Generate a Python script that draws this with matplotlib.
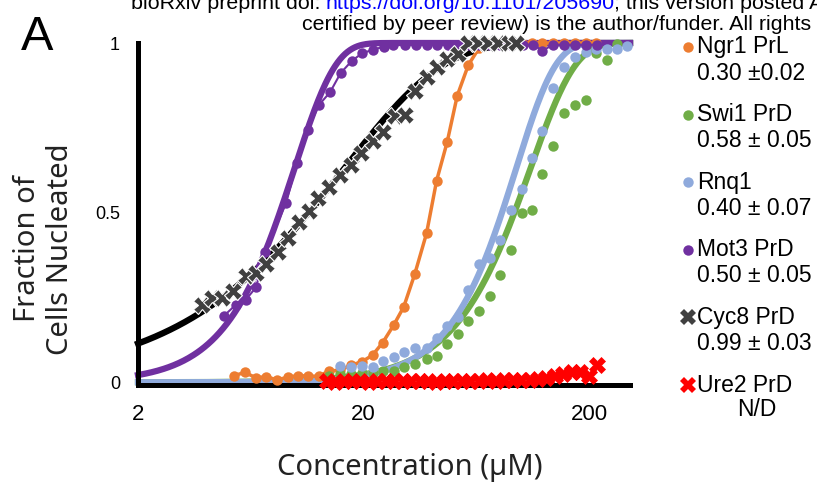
import numpy as np
import matplotlib.pyplot as plt
from matplotlib.lines import Line2D

plt.rcParams['font.family'] = ['Liberation Sans', 'DejaVu Sans']

# ---------------- data ----------------
ngr1_conc = [5.34, 5.96, 6.67, 7.39, 8.24, 9.22, 10.25, 11.39, 12.66, 14.1, 15.7, 17.5,
             19.7, 21.9, 24.3, 27.2, 30.1, 33.7, 38.0, 42.1, 46.9, 52.0, 58.2, 64.9,
             72.1, 80.4, 89.8, 100.4, 111.3, 123.3, 138.8, 153.8, 173.4, 193.0, 213.7]
ngr1_frac = [0.020, 0.029, 0.013, 0.017, 0.007, 0.015, 0.020, 0.018, 0.018, 0.034, 0.035, 0.050,
             0.061, 0.080, 0.117, 0.169, 0.222, 0.319, 0.439, 0.594, 0.708, 0.845, 0.935, 0.985,
             1.0, 1.0, 1.0, 1.0, 1.0, 1.0, 1.0, 1.0, 1.0, 1.0, 1.0]

swi1_conc = [14.1, 15.7, 17.5, 19.6, 21.9, 24.3, 27.2, 30.2, 33.7, 38.0, 42.1, 47.0, 52.2, 58.2,
             65.0, 72.3, 80.6, 89.8, 100.4, 111.3, 123.3, 138.8, 153.8, 173.4, 193.0, 213.7,
             239.5, 265.6]
swi1_frac = [0.020, 0.023, 0.023, 0.026, 0.026, 0.034, 0.034, 0.044, 0.054, 0.068, 0.078, 0.112,
             0.141, 0.180, 0.210, 0.254, 0.317, 0.390, 0.500, 0.509, 0.614, 0.697, 0.795, 0.817,
             0.833, 0.971, 0.950, 0.996]

rnq1_conc = [15.7, 17.5, 19.6, 21.9, 24.3, 27.2, 30.2, 33.7, 38.0, 42.1, 47.0, 52.2, 58.2, 65.0,
             72.3, 80.6, 89.8, 100.4, 111.3, 123.3, 138.8, 153.8, 173.4, 193.0, 213.7, 239.5,
             265.6, 295.0]
rnq1_frac = [0.049, 0.046, 0.049, 0.044, 0.063, 0.075, 0.088, 0.102, 0.102, 0.132, 0.166, 0.192,
             0.273, 0.349, 0.365, 0.419, 0.507, 0.570, 0.660, 0.741, 0.866, 0.928, 0.960, 0.974,
             0.983, 0.982, 0.983, 0.990]

mot3_conc = [4.79, 5.44, 6.02, 6.67, 7.34, 9.06, 10.1, 11.3, 12.7, 14.2, 15.8, 17.7, 19.7, 22.0,
             24.5, 26.9, 30.4, 34.0, 38.1, 42.2, 47.2, 52.3, 58.2, 65.0, 72.3, 80.6, 89.8,
             102.0, 113.0, 124.0, 138.0, 155.0, 173.0, 194.0, 217.0]
mot3_frac = [0.195, 0.229, 0.244, 0.280, 0.385, 0.528, 0.645, 0.745, 0.818, 0.855, 0.911, 0.947,
             0.970, 0.980, 0.989, 0.995, 0.995, 0.995, 0.995, 0.995, 0.995, 0.995, 0.995, 0.995,
             0.995, 0.995, 0.995, 0.995, 0.995, 0.977, 0.995, 0.995, 0.995, 0.995, 0.995]

cyc8_conc = [3.85, 4.26, 4.72, 5.29, 6.0, 6.64, 7.41, 8.32, 9.28, 10.34, 11.45, 12.56, 14.0, 15.76,
             17.6, 19.5, 21.9, 24.3, 27.5, 30.4, 33.7, 38.0, 42.1, 46.9, 52.2, 58.0, 64.2, 71.3,
             79.1, 87.8, 95.0]
cyc8_frac = [0.227, 0.247, 0.249, 0.269, 0.313, 0.322, 0.348, 0.383, 0.424, 0.473, 0.506, 0.542,
             0.577, 0.611, 0.640, 0.675, 0.711, 0.738, 0.784, 0.789, 0.860, 0.899, 0.928, 0.952,
             0.967, 1.0, 1.0, 1.0, 1.0, 1.0, 1.0]

ure2_conc = [13.7, 14.9, 16.3, 17.7, 19.3, 21.1, 23.0, 25.0, 27.3, 29.8, 32.4, 35.4, 38.6, 42.0,
             45.8, 50.0, 54.5, 59.4, 64.7, 70.6, 77.0, 83.9, 91.5, 99.7, 108.7, 118.5, 129.2,
             140.8, 153.5, 167.4, 182.5, 199.0, 217.0]
ure2_frac = [0.004, 0.002, 0.005, 0.003, 0.004, 0.002, 0.005, 0.003, 0.004, 0.003, 0.005, 0.003,
             0.004, 0.002, 0.005, 0.004, 0.003, 0.005, 0.004, 0.006, 0.005, 0.007, 0.006, 0.008,
             0.007, 0.010, 0.012, 0.020, 0.025, 0.030, 0.030, 0.020, 0.052]

# Weibull fits (scale, shape)
rnq1_fit = (95.0, 2.5)
swi1_fit = (110.0, 2.2)
mot3_fit = (9.9, 2.4)
cyc8_fit = (16.5, 1.0)

legend_names = ['Ngr1 PrL', 'Swi1 PrD', 'Rnq1', 'Mot3 PrD', 'Cyc8 PrD', 'Ure2 PrD']
legend_values = ['0.30 \u00b10.02', '0.58 \u00b1 0.05', '0.40 \u00b1 0.07',
                 '0.50 \u00b1 0.05', '0.99 \u00b1 0.03', 'N/D']

ORANGE = '#ED7D31'
GREEN = '#70AD47'
BLUE = '#8FAADC'
PURPLE = '#7030A0'
GRAY = '#404040'
RED = '#FF0000'


def weibull(c, scale, shape):
    c = np.asarray(c)
    return 1 - np.exp(-(c / scale) ** shape)


W, H = 817, 496
fig = plt.figure(figsize=(W / 100, H / 100), dpi=100)
ax = fig.add_axes([138 / W, 1 - 385 / H, (630 - 138) / W, (385 - 43) / H])

c_fit = np.logspace(np.log10(2), np.log10(303), 400)

# fitted curves
ax.plot(c_fit, weibull(c_fit, *swi1_fit), color=GREEN, lw=4.5, zorder=2, clip_on=False)
ax.plot(c_fit, weibull(c_fit, *rnq1_fit), color=BLUE, lw=4.5, zorder=2, clip_on=False)
ax.plot(c_fit, weibull(c_fit, *cyc8_fit), color='black', lw=4.5, zorder=2, clip_on=False)
ax.plot(c_fit, weibull(c_fit, *mot3_fit), color=PURPLE, lw=4.5, zorder=2, clip_on=False)

# measured data
ax.plot(ngr1_conc, ngr1_frac, color=ORANGE, lw=2.5, marker='o', ms=7.5, mew=0,
        zorder=3, clip_on=False)
ax.plot(swi1_conc, swi1_frac, ls='none', color=GREEN, marker='o', ms=7.5, mew=0,
        zorder=3, clip_on=False)
ax.plot(rnq1_conc, rnq1_frac, ls='none', color=BLUE, marker='o', ms=7.5, mew=0,
        zorder=3, clip_on=False)
ax.plot(mot3_conc, mot3_frac, color=PURPLE, lw=1.5, marker='o', ms=7.5, mew=0,
        zorder=3, clip_on=False)
ax.plot(cyc8_conc, cyc8_frac, ls='none', color=GRAY, marker='X', ms=12.5, mec='white', mew=0.8,
        zorder=4, clip_on=False)
ax.plot(ure2_conc, ure2_frac, ls='none', color=RED, marker='X', ms=12, mec=RED, mew=0.5,
        zorder=5, clip_on=False)

ax.set_xscale('log')
ax.set_xlim(2, 303)
ax.set_ylim(-0.008, 1.0)
ax.set_xticks([2, 20, 200])
ax.set_xticklabels(['2', '20', '200'], fontsize=16)
ax.xaxis.set_minor_locator(plt.NullLocator())
ax.set_yticks([0, 0.5, 1])
ax.set_yticklabels(['0', '0.5', '1'], fontsize=13)
ax.tick_params(axis='x', length=0, pad=14)
ax.tick_params(axis='y', length=0, pad=13)
for s in ['top', 'right']:
    ax.spines[s].set_visible(False)
for s in ['left', 'bottom']:
    ax.spines[s].set_linewidth(3.6)
    ax.spines[s].set_capstyle('projecting')

# axis labels
lab_font = ['Noto Sans', 'DejaVu Sans']
fig.text(410 / W, 1 - 467 / H, 'Concentration (\u00b5M)', fontsize=21, family=lab_font,
         color='#222222', ha='center', va='center')
fig.text(28 / W, 1 - 249 / H, 'Fraction of', fontsize=21, family=lab_font,
         color='#222222', ha='center', va='center', rotation=90)
fig.text(61 / W, 1 - 249 / H, 'Cells Nucleated', fontsize=21, family=lab_font,
         color='#222222', ha='center', va='center', rotation=90)

# panel letter
fig.text(37 / W, 1 - 37 / H, 'A', fontsize=35, ha='center', va='center')

# preprint header (cut at top of page), pieces chained one after another
head_size = 15.4
renderer = fig.canvas.get_renderer()
x0 = 131 / W
for piece, col in [('bioRxiv preprint doi:', 'black'),
                   ('https://doi.org/10.1101/205690', '#0000FF'),
                   ('; this version posted August', 'black')]:
    t = fig.text(x0, 1 - 9 / H, piece, fontsize=head_size, va='baseline', color=col)
    bb = t.get_window_extent(renderer=renderer)
    x0 = (bb.x1 + (5 if piece.endswith(':') else 0)) / W
fig.text(302 / W, 1 - 30 / H, 'certified by peer review) is the author/funder. All rights reserved.',
         fontsize=head_size, va='baseline')

# legend
leg_colors = [ORANGE, GREEN, BLUE, PURPLE, GRAY, RED]
leg_markers = ['o', 'o', 'o', 'o', 'X', 'X']
for i, (name, val) in enumerate(zip(legend_names, legend_values)):
    y = 47 + i * 67.6
    round_mk = leg_markers[i] == 'o'
    fig.add_artist(Line2D([688 / W], [1 - y / H], marker=leg_markers[i], ms=7.5 if round_mk else 11,
                          color=leg_colors[i], mew=0, ls='none', transform=fig.transFigure))
    fig.text(697 / W, 1 - y / H, name, fontsize=16.5, va='center')
    if val == 'N/D':
        fig.text(757 / W, 1 - (y + 24) / H, val, fontsize=16.5, va='center', ha='center')
    else:
        fig.text(697 / W, 1 - (y + 26) / H, val, fontsize=16.5, va='center')

fig.savefig('out.png', dpi=100)
